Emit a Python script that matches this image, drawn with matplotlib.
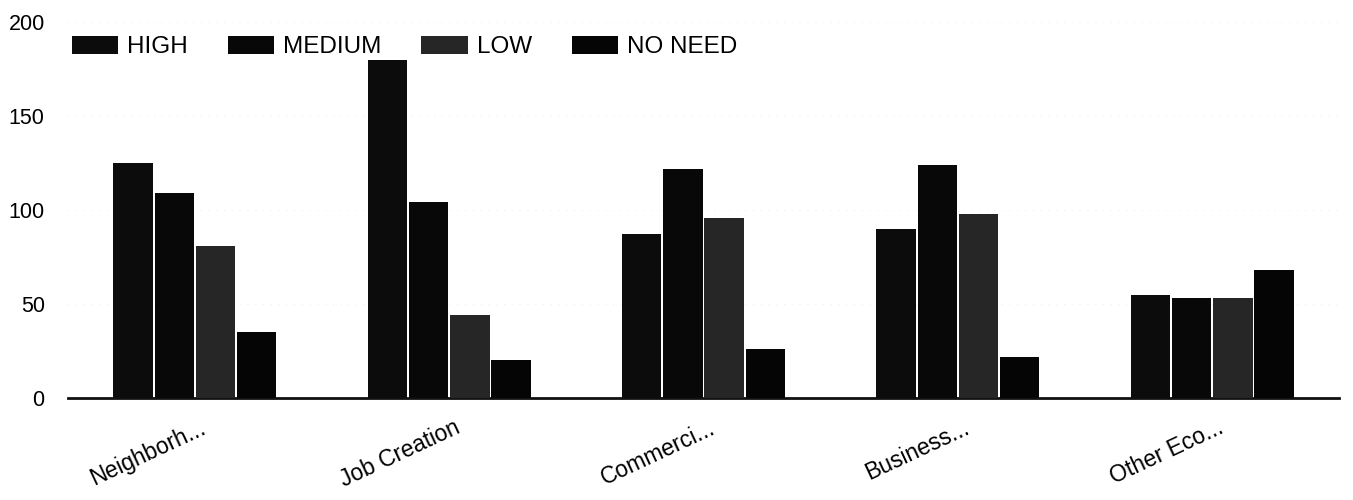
import matplotlib.pyplot as plt
import numpy as np

plt.rcParams['font.family'] = ['Liberation Sans', 'DejaVu Sans']

categories = ['Neighborh...', 'Job Creation', 'Commerci...', 'Business...', 'Other Eco...']
series = ['HIGH', 'MEDIUM', 'LOW', 'NO NEED']
high = [125, 180, 87, 90, 55]
medium = [109, 104, 122, 124, 53]
low = [81, 44, 96, 98, 53]
no_need = [35, 20, 26, 22, 68]

values = [high, medium, low, no_need]
colors = ['#0c0c0c', '#080808', '#262626', '#050505']

fig = plt.figure(figsize=(13.53, 5.0), dpi=100)
ax = fig.add_axes([0.050, 0.204, 0.940, 0.752])

x = np.arange(len(categories))
width = 0.155
step = 0.162
for i, (name, vals) in enumerate(zip(series, values)):
    offset = (i - 1.5) * step
    ax.bar(x + offset, vals, width, color=colors[i], label=name, zorder=3)

ax.set_xlim(-0.5, len(categories) - 0.5)
ax.set_ylim(0, 200)
ax.set_yticks([0, 50, 100, 150, 200])
ax.tick_params(axis='y', length=0, labelsize=15.5, pad=16.5)
ax.tick_params(axis='x', length=0, labelsize=16.5, pad=13)
ax.set_xticks(x + 0.02)
ax.set_xticklabels(categories, rotation=25, ha='right', rotation_mode='anchor')

# faint horizontal guides, heavy baseline
ax.grid(axis='y', color='#f0f0f0', linewidth=0.8, linestyle=(0, (1, 6)), zorder=0)
for side in ['top', 'right', 'left']:
    ax.spines[side].set_visible(False)
ax.spines['bottom'].set_linewidth(2)
ax.spines['bottom'].set_color('#111111')

fig.legend(loc='center left', bbox_to_anchor=(0.053, 0.906), ncol=4, frameon=False,
           fontsize=17.5, handlelength=1.9, handleheight=0.8, handletextpad=0.37,
           columnspacing=1.65, borderaxespad=0, borderpad=0)

fig.savefig('out.png', dpi=100)
